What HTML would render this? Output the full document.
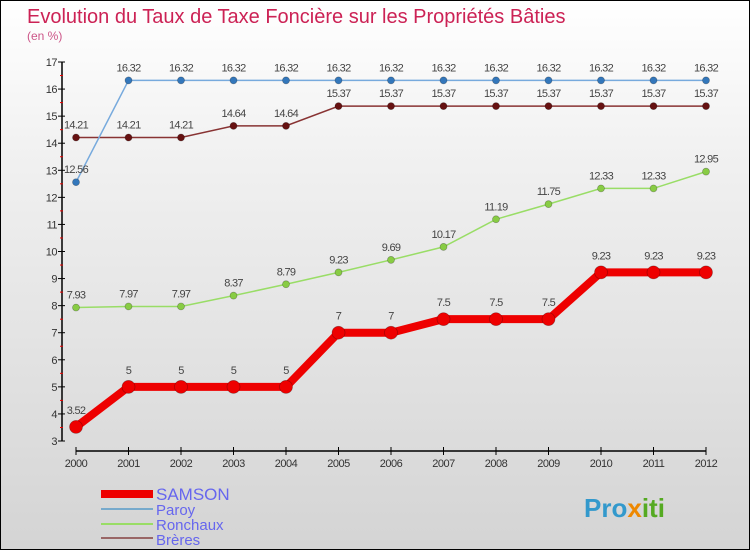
<!DOCTYPE html>
<html><head><meta charset="utf-8"><style>
body{margin:0}
#c{width:750px;height:550px;position:relative;overflow:hidden;box-sizing:border-box;border:1px solid #000;background:linear-gradient(#ffffff,#f0f0f0 30%,#d4d4d4);font-family:"Liberation Sans",sans-serif}
</style></head><body>
<div id="c">
<svg id="s" width="750" height="550" style="position:absolute;left:0;top:0">
<text x="26" y="22" font-size="20" fill="#cc2255">Evolution du Taux de Taxe Foncière sur les Propriétés Bâties</text>
<text x="26" y="39" font-size="12" fill="#cc5588">(en %)</text>
<g id="axes"></g><g id="series"></g>
<g>
<rect x="100" y="489" width="52" height="8" fill="#ee0000"/>
<text x="155" y="499" font-size="17" fill="#6666ee">SAMSON</text>
<rect x="100" y="507" width="52" height="2" fill="#77aacc"/>
<text x="155" y="514" font-size="15" fill="#6666ee">Paroy</text>
<rect x="100" y="522" width="52" height="2" fill="#99dd66"/>
<text x="155" y="529" font-size="15" fill="#6666ee">Ronchaux</text>
<rect x="100" y="536" width="52" height="2" fill="#996666"/>
<text x="155" y="544" font-size="15" fill="#6666ee">Brères</text>
</g>
<text x="583" y="516" font-size="26" font-weight="bold" fill="#3399cc">Pro<tspan fill="#ee8800">x</tspan><tspan fill="#55aa22">iti</tspan></text>
</svg>
</div>
<script>
const years=[2000,2001,2002,2003,2004,2005,2006,2007,2008,2009,2010,2011,2012];
const yTicks=[3,4,5,6,7,8,9,10,11,12,13,14,15,16,17];
const samson=[3.52,5,5,5,5,7,7,7.5,7.5,7.5,9.23,9.23,9.23];
const paroy=[12.56,16.32,16.32,16.32,16.32,16.32,16.32,16.32,16.32,16.32,16.32,16.32,16.32];
const ronchaux=[7.93,7.97,7.97,8.37,8.79,9.23,9.69,10.17,11.19,11.75,12.33,12.33,12.95];
const breres=[14.21,14.21,14.21,14.64,14.64,15.37,15.37,15.37,15.37,15.37,15.37,15.37,15.37];
const NS="http://www.w3.org/2000/svg";
function X(i){return 75+i*(630/(years.length-1));}
function Y(v){return 440-(v-3)*(379/14);}
function mk(t,a,p){const e=document.createElementNS(NS,t);for(const k in a)e.setAttribute(k,a[k]);p.appendChild(e);return e;}
const ax=document.getElementById('axes');
const yl=mk('line',{x1:61,y1:Y(17),x2:61,y2:Y(3),stroke:'#000','stroke-width':1.5},ax);


yTicks.forEach(v=>{
 mk('line',{x1:57,y1:Y(v),x2:64,y2:Y(v),stroke:'#000'},ax);
 if(v<17)mk('line',{x1:59,y1:Y(v+0.5),x2:62,y2:Y(v+0.5),stroke:'#e00'},ax);
 const t=mk('text',{x:56,y:Y(v)+4,'font-size':11,fill:'#333','text-anchor':'end','letter-spacing':'-0.5'},ax);t.textContent=v;
 
 
});
const xl=mk('line',{x1:75,y1:450,x2:705,y2:450,stroke:'#000','stroke-width':1.5},ax);


years.forEach((y,i)=>{
 mk('line',{x1:X(i),y1:446,x2:X(i),y2:454,stroke:'#000'},ax);
 const t=mk('text',{x:X(i),y:466,'font-size':11,fill:'#333','text-anchor':'middle','letter-spacing':'-0.5'},ax);t.textContent=y;
 
 
});
const sg=document.getElementById('series');
function draw(name,vals,col,w,r,dot,lblOff){
 const g=mk('g',{},sg);
 
 
 mk('polyline',{points:vals.map((v,i)=>X(i)+','+Y(v)).join(' '),fill:'none',stroke:col,'stroke-width':w},g);
 vals.forEach((v,i)=>{
  const c=mk('circle',{cx:X(i),cy:Y(v),r:r,fill:dot,stroke:'rgba(0,0,0,0.3)','stroke-width':0.7},g);
  
  
  const t=mk('text',{x:X(i),y:Y(v)+lblOff,'font-size':11,fill:'#444','text-anchor':'middle','letter-spacing':'-0.7'},g);t.textContent=v;
 });
}
draw('ronchaux',ronchaux,'#99dd66',1.5,3.5,'#88cc44',-9);
draw('breres',breres,'#883333',1.5,3.5,'#661111',-9);
draw('paroy',paroy,'#77aadd',1.5,3.5,'#3377bb',-9);
draw('samson',samson,'#ee0000',8,6.5,'#ee0000',-13);
</script>
</body></html>
